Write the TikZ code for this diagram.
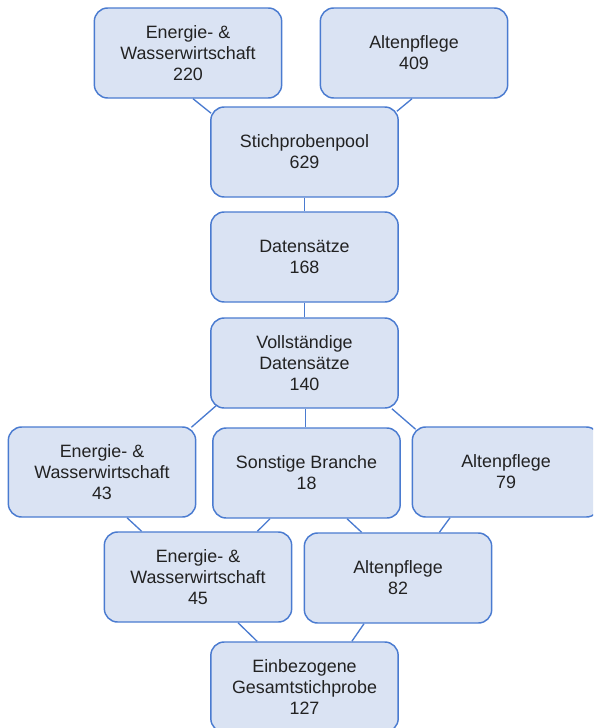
\documentclass[tikz,border=0pt]{standalone}
\usepackage{fontspec}
\setmainfont{Liberation Sans}
\usetikzlibrary{calc,backgrounds}
\definecolor{boxfill}{HTML}{DAE3F3}
\definecolor{boxline}{HTML}{4A7BD0}
\definecolor{txt}{HTML}{222222}
\begin{document}
\begin{tikzpicture}[x=0.75pt,y=-0.75pt,
  box/.style={draw=boxline,fill=boxfill,line width=1.1pt,rounded corners=10pt,
    minimum width=140.5pt,minimum height=67.5pt,inner sep=0pt,align=center,
    text=txt,font=\fontsize{13.4}{15.8}\selectfont},
  link/.style={draw=boxline,line width=1pt}]
\useasboundingbox (0,0) rectangle (593,728);
\clip (0,0) rectangle (593,728);
\node[box] (e220) at (188,53) {Energie- \&\\Wasserwirtschaft\\220};
\node[box] (a409) at (414,53) {Altenpflege\\409};
\node[box] (stich) at (304.5,152) {Stichprobenpool\\629};
\node[box] (daten) at (304.5,257) {Datensätze\\168};
\node[box] (voll) at (304.5,363) {Vollständige\\Datensätze\\140};
\node[box] (e43) at (102,472) {Energie- \&\\Wasserwirtschaft\\43};
\node[box] (sons) at (306.5,473) {Sonstige Branche\\18};
\node[box] (a79) at (506,472) {Altenpflege\\79};
\node[box] (e45) at (198,577) {Energie- \&\\Wasserwirtschaft\\45};
\node[box] (a82) at (398,578) {Altenpflege\\82};
\node[box] (ein) at (304.5,687) {Einbezogene\\Gesamtstichprobe\\127};
\begin{scope}[on background layer]
\draw[link] ($(e220.south)+(5,0)$) -- ($(stich.north west)+(1,7)$);
\draw[link] ($(a409.south)+(-2,0)$) -- ($(stich.north east)+(-2,5)$);
\draw[link] (stich.south) -- (daten.north);
\draw[link] (daten.south) -- (voll.north);
\draw[link] ($(voll.south west)+(6,-3)$) -- ($(e43.north east)+(-5,1)$);
\draw[link] ($(voll.south)+(1,0)$) -- ($(sons.north)+(-1,0)$);
\draw[link] ($(voll.south east)+(-7,0)$) -- ($(a79.north west)+(4,3)$);
\draw[link] ($(e43.south)+(25,0)$) -- ($(e45.north west)+(38,0)$);
\draw[link] ($(sons.south)+(-36.5,0)$) -- ($(e45.north east)+(-35,0)$);
\draw[link] ($(sons.south)+(40.5,0)$) -- ($(a82.north west)+(58,0)$);
\draw[link] ($(a79.south)+(-56,0)$) -- ($(a82.north east)+(-53,0)$);
\draw[link] ($(e45.south)+(40,0)$) -- ($(ein.north west)+(47,0)$);
\draw[link] ($(a82.south)+(-34,0)$) -- ($(ein.north east)+(-47,0)$);
\end{scope}
\end{tikzpicture}
\end{document}
